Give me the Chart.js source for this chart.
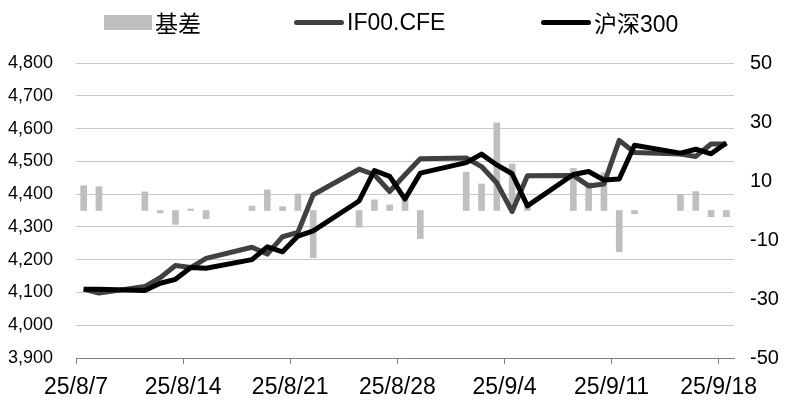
<!DOCTYPE html>
<html>
<head>
<meta charset="utf-8">
<script src="https://cdn.jsdelivr.net/npm/chart.js@4.4.1/dist/chart.umd.min.js"></script>
<style>
  html, body { margin: 0; padding: 0; background: #fff; }
  #wrap { position: relative; width: 790px; height: 407px; }
  #legend { position: absolute; top: 0; left: 0; width: 790px; height: 44px;
    font-family: "Liberation Sans", "Noto Sans CJK SC", sans-serif; font-size: 23px; color: #000; }
  .item { position: absolute; top: 8px; height: 28px; display: flex; align-items: center; white-space: nowrap; }
  .swatch { display: inline-block; margin-right: 3px; }
</style>
</head>
<body>
<div id="wrap">
  <canvas id="chart" width="790" height="407"></canvas>
  <div id="legend"></div>
</div>
<script>
// trading days (weekends are left empty on the date axis)
const tradeDates = [
  '2025-08-07', '2025-08-08', '2025-08-11', '2025-08-12', '2025-08-13', '2025-08-14', '2025-08-15',
  '2025-08-18', '2025-08-19', '2025-08-20', '2025-08-21', '2025-08-22',
  '2025-08-25', '2025-08-26', '2025-08-27', '2025-08-28', '2025-08-29',
  '2025-09-01', '2025-09-02', '2025-09-03', '2025-09-04', '2025-09-05',
  '2025-09-08', '2025-09-09', '2025-09-10', '2025-09-11', '2025-09-12',
  '2025-09-15', '2025-09-16', '2025-09-17', '2025-09-18'
];
const ifValues = [
  4110, 4098, 4118, 4145, 4182, 4176, 4204,
  4238, 4217, 4270, 4283, 4398,
  4476, 4459, 4408, 4459, 4508,
  4510, 4484, 4434, 4347, 4456,
  4457, 4425, 4431, 4564, 4527,
  4522, 4515, 4553, 4553
];
const hs300Values = [
  4110, 4110, 4106, 4128, 4140, 4176, 4174,
  4200, 4239, 4224, 4272, 4288,
  4379, 4472, 4454, 4385, 4464,
  4496, 4522, 4489, 4462, 4364,
  4460, 4469, 4443, 4446, 4549,
  4525, 4537, 4523, 4556
];
const basisValues = [
  8.4, 8.1, 6.3, -0.8, -4.7, 0.5, -2.8,
  1.5, 7.0, 1.3, 5.6, -16,
  -5.7, 3.6, 1.9, 5.6, -9.5,
  13, 9.0, 29.7, 15.8, 1.8,
  14.3, 9.5, 12.8, -14, -1.1,
  5.5, 6.4, -2.1, -2.1
];
const xTickLabels = ['25/8/7', '25/8/14', '25/8/21', '25/8/28', '25/9/4', '25/9/11', '25/9/18'];

const FONT = "'Liberation Sans', 'Noto Sans CJK SC', sans-serif";
Chart.defaults.font.family = FONT;
Chart.defaults.color = '#000';

const day0 = Date.parse(tradeDates[0]);
const dayIndex = tradeDates.map(d => Math.round((Date.parse(d) - day0) / 86400000));
const lastDay = dayIndex[dayIndex.length - 1];
const toPoints = vals => dayIndex.map((x, i) => ({ x: x, y: vals[i] }));
const xTickPos = xTickLabels.map((_, i) => i * 7 - 0.5);

const chart = new Chart(document.getElementById('chart'), {
  type: 'bar',
  data: {
    datasets: [
      {
        type: 'bar', label: '基差', data: toPoints(basisValues),
        backgroundColor: '#bfbfbf', barThickness: 6, yAxisID: 'y2', order: 3
      },
      {
        type: 'line', label: 'IF00.CFE', data: toPoints(ifValues),
        borderColor: '#404040', backgroundColor: '#404040', borderWidth: 5,
        pointRadius: 0, tension: 0, borderJoinStyle: 'round', yAxisID: 'y', order: 2
      },
      {
        type: 'line', label: '沪深300', data: toPoints(hs300Values),
        borderColor: '#000000', backgroundColor: '#000000', borderWidth: 5,
        pointRadius: 0, tension: 0, borderJoinStyle: 'round', yAxisID: 'y', order: 1
      }
    ]
  },
  options: {
    responsive: false,
    animation: false,
    layout: { padding: { top: 63, left: 0, right: 0, bottom: 0 } },
    plugins: { legend: { display: false }, tooltip: { enabled: false } },
    scales: {
      x: {
        type: 'linear', min: -0.5, max: lastDay + 0.5, offset: false,
        afterBuildTicks: s => { s.ticks = xTickPos.map(v => ({ value: v })); },
        afterFit: s => { s.height = 49; },
        ticks: {
          callback: (v, i) => xTickLabels[i],
          font: { size: 23 }, color: '#000', padding: 10,
          maxRotation: 0, autoSkip: false
        },
        grid: { offset: false, drawOnChartArea: false, drawTicks: true, tickLength: 6, color: '#808080' },
        border: { display: true, color: '#808080', width: 1 }
      },
      y: {
        position: 'left', min: 3900, max: 4800,
        afterFit: s => { s.width = 76; },
        ticks: {
          stepSize: 100, padding: 23, font: { size: 18 }, color: '#000',
          callback: v => v.toLocaleString('en-US')
        },
        grid: { color: '#c8c8c8', lineWidth: 1, drawTicks: false },
        border: { display: false }
      },
      y2: {
        position: 'right', min: -50, max: 50,
        afterFit: s => { s.width = 56; },
        ticks: { stepSize: 20, padding: 16, font: { size: 20 }, color: '#000' },
        grid: { display: false, drawTicks: false },
        border: { display: false }
      }
    }
  }
});

// legend drawn as html text, built from the datasets
const legendLeft = [104, 294, 541];
const legendEl = document.getElementById('legend');
chart.data.datasets.forEach((ds, i) => {
  const item = document.createElement('div');
  item.className = 'item';
  item.style.left = legendLeft[i] + 'px';
  const sw = document.createElement('span');
  sw.className = 'swatch';
  if (ds.type === 'bar') {
    sw.style.width = '48px'; sw.style.height = '15px'; sw.style.background = ds.backgroundColor;
  } else {
    sw.style.width = '50px'; sw.style.height = '5px'; sw.style.background = ds.borderColor;
    sw.style.borderRadius = '3px';
  }
  const txt = document.createElement('span');
  txt.textContent = ds.label;
  item.appendChild(sw);
  item.appendChild(txt);
  legendEl.appendChild(item);
});
</script>
</body>
</html>
